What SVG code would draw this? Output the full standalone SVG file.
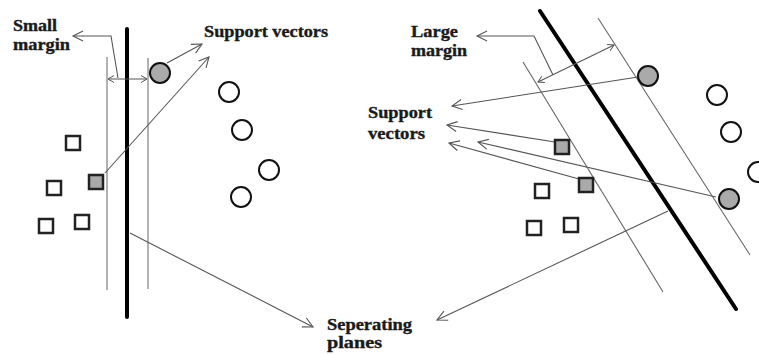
<svg xmlns="http://www.w3.org/2000/svg" width="759" height="354" viewBox="0 0 759 354">
<defs>
<marker id="ah" markerUnits="userSpaceOnUse" markerWidth="12" markerHeight="12" refX="10" refY="5" orient="auto" overflow="visible">
<path d="M0,0 L10,5 L0,10" fill="none" stroke="#555" stroke-width="1.1"/>
</marker>
<marker id="ahs" markerUnits="userSpaceOnUse" markerWidth="8" markerHeight="8" refX="6" refY="3.5" orient="auto-start-reverse" overflow="visible">
<path d="M0,0 L6,3.5 L0,7" fill="none" stroke="#555" stroke-width="1"/>
</marker>
</defs>
<style>
.lbl{font-family:"Liberation Serif","Times New Roman",serif;font-weight:bold;font-size:16px;fill:#1a1a1a;stroke:#1a1a1a;stroke-width:0.35}
.sep{stroke:#000;stroke-width:4;stroke-linecap:round;fill:none}
.pl{stroke:#999;stroke-width:1.5;fill:none}
.plr{stroke:#666;stroke-width:1.1;fill:none}
.con{stroke:#555;stroke-width:1.1;fill:none;marker-end:url(#ah)}
.mar{stroke:#555;stroke-width:1.1;fill:none;marker-start:url(#ahs);marker-end:url(#ahs)}
.c{fill:#fff;stroke:#111;stroke-width:2}
.cg{fill:#aaa;stroke:#111;stroke-width:2}
.s{fill:#fff;stroke:#222;stroke-width:2.5}
.sg{fill:#aaa;stroke:#222;stroke-width:2.5}
</style>
<rect width="759" height="354" fill="#fff"/>

<g id="left-planes">
<line class="pl" x1="107" y1="57" x2="107" y2="290"/>
<line class="pl" x1="148" y1="58" x2="148" y2="289"/>
<line class="sep" x1="127" y1="29" x2="127" y2="317"/>
</g>
<g id="right-planes">
<line class="plr" x1="523" y1="62" x2="663" y2="292"/>
<line class="plr" x1="598" y1="18" x2="750" y2="255"/>
<line class="sep" x1="540" y1="11" x2="736" y2="309"/>
</g>

<g id="connectors">
<polyline class="con" points="118,78 111,36 73,36"/>
<line class="mar" x1="108" y1="79" x2="147" y2="79"/>
<line class="con" x1="167" y1="63" x2="202" y2="44"/>
<line class="con" x1="105" y1="173" x2="209" y2="57"/>
<line class="con" x1="130" y1="233" x2="313" y2="327"/>
<polyline class="con" points="553,75 534,36 477,36"/>
<line class="mar" x1="538" y1="82" x2="614" y2="45"/>
<line class="con" x1="638" y1="77" x2="452" y2="106"/>
<line class="con" x1="555" y1="142" x2="447" y2="125"/>
<line class="con" x1="579" y1="179" x2="449" y2="143"/>
<line class="con" x1="716" y1="197" x2="478" y2="142"/>
<line class="con" x1="668" y1="211" x2="437" y2="320"/>
</g>

<g id="left-circles">
<circle class="cg" cx="160" cy="73" r="10"/>
<circle class="c" cx="229" cy="92" r="10"/>
<circle class="c" cx="242" cy="130" r="10"/>
<circle class="c" cx="269" cy="170" r="10"/>
<circle class="c" cx="241" cy="197" r="10"/>
</g>
<g id="left-squares">
<rect class="s" x="66" y="136" width="14" height="14"/>
<rect class="s" x="47" y="181" width="14" height="14"/>
<rect class="sg" x="89" y="175" width="14" height="14"/>
<rect class="s" x="39" y="219" width="14" height="14"/>
<rect class="s" x="75" y="215" width="14" height="14"/>
</g>
<g id="right-circles">
<circle class="cg" cx="648" cy="76" r="10"/>
<circle class="c" cx="717" cy="95" r="10"/>
<circle class="c" cx="731" cy="132" r="10"/>
<circle class="c" cx="758" cy="172" r="10"/>
<circle class="cg" cx="729" cy="199" r="10"/>
</g>
<g id="right-squares">
<rect class="sg" x="555" y="140" width="14" height="14"/>
<rect class="sg" x="579" y="178" width="14" height="14"/>
<rect class="s" x="535" y="184" width="14" height="14"/>
<rect class="s" x="527" y="221" width="14" height="14"/>
<rect class="s" x="564" y="218" width="14" height="14"/>
</g>

<g id="label-small-margin">
<text class="lbl" x="13" y="31" textLength="44" lengthAdjust="spacingAndGlyphs">Small</text>
<text class="lbl" x="13" y="50" textLength="57" lengthAdjust="spacingAndGlyphs">margin</text>
</g>
<g id="label-support-left">
<text class="lbl" x="204" y="37" textLength="124" lengthAdjust="spacingAndGlyphs">Support vectors</text>
</g>
<g id="label-large-margin">
<text class="lbl" x="411" y="37" textLength="47" lengthAdjust="spacingAndGlyphs">Large</text>
<text class="lbl" x="411" y="56" textLength="56" lengthAdjust="spacingAndGlyphs">margin</text>
</g>
<g id="label-support-right">
<text class="lbl" x="368" y="118" textLength="64" lengthAdjust="spacingAndGlyphs">Support</text>
<text class="lbl" x="368" y="139" textLength="57" lengthAdjust="spacingAndGlyphs">vectors</text>
</g>
<g id="label-separating">
<text class="lbl" x="327" y="330" textLength="85" lengthAdjust="spacingAndGlyphs">Seperating</text>
<text class="lbl" x="327" y="348" textLength="55" lengthAdjust="spacingAndGlyphs">planes</text>
</g>
</svg>
